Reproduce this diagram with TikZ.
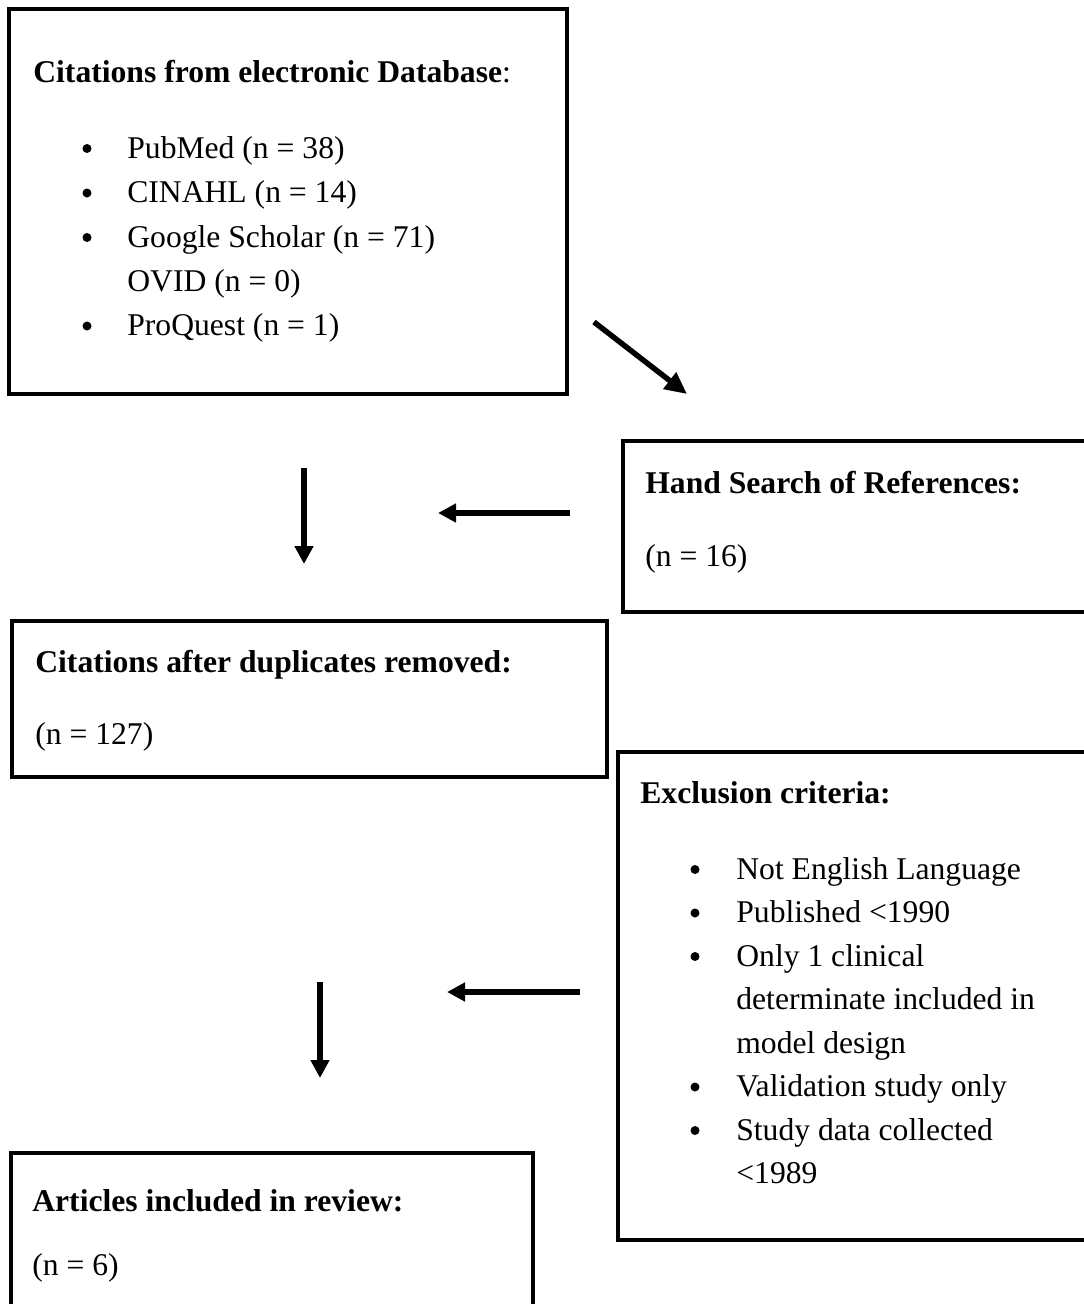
\documentclass[tikz,border=0pt]{standalone}
\usepackage{fontspec}
\setmainfont{Liberation Serif}
\usetikzlibrary{arrows.meta,positioning}

\begin{document}
\begin{tikzpicture}[every node/.style={font=\fontsize{18}{25}\selectfont,inner sep=0pt,anchor=base west},
  frame/.style={line width=2pt},
  arr/.style={line width=3.1pt,-{Triangle[length=0.36cm,width=0.36cm]}}]
\useasboundingbox (0,0) rectangle (21.68,-26.08);
% boxes
\coordinate (db1) at (0.18,-0.18);
\coordinate (db2) at (11.34,-7.88);
\coordinate (hs1) at (12.46,-8.82);
\coordinate (hs2) at (22.20,-12.24);
\coordinate (dup1) at (0.24,-12.42);
\coordinate (dup2) at (12.14,-15.54);
\coordinate (ex1) at (12.36,-15.04);
\coordinate (ex2) at (22.20,-24.80);
\coordinate (inc1) at (0.22,-23.06);
\coordinate (inc2) at (10.66,-26.60);
\draw[frame] (db1) rectangle (db2);
\draw[frame] (hs1) rectangle (hs2);
\draw[frame] (dup1) rectangle (dup2);
\draw[frame] (ex1) rectangle (ex2);
\draw[frame] (inc1) rectangle (inc2);
% database citations
\node (dbtitle) at (0.66,-1.64) {\textbf{Citations from electronic Database}:};
\fill (1.74,-2.97) circle (0.09);\node (db1t) at (2.54,-3.16) {PubMed (n = 38)};
\fill (1.74,-3.86) circle (0.09);\node (db2t) at (2.54,-4.05) {CINAHL (n = 14)};
\fill (1.74,-4.75) circle (0.09);\node (db3t) at (2.54,-4.94) {Google Scholar (n = 71)};
\node (db4t) at (2.54,-5.82) {OVID (n = 0)};
\fill (1.74,-6.52) circle (0.09);\node (db5t) at (2.54,-6.71) {ProQuest (n = 1)};
% hand search
\node (hstitle) at (12.90,-9.86) {\textbf{Hand Search of References:}};
\node (hsn) at (12.90,-11.32) {(n = 16)};
% duplicates removed
\node (duptitle) at (0.70,-13.44) {\textbf{Citations after duplicates removed:}};
\node (dupn) at (0.70,-14.88) {(n = 127)};
% exclusion
\node (extitle) at (12.80,-16.06) {\textbf{Exclusion criteria:}};
\fill (13.90,-17.39) circle (0.09);\node (ex1t) at (14.72,-17.58) {Not English Language};
\fill (13.90,-18.26) circle (0.09);\node (ex2t) at (14.72,-18.45) {Published <1990};
\fill (13.90,-19.13) circle (0.09);\node (ex3t) at (14.72,-19.32) {Only 1 clinical};
\node (ex3u) at (14.72,-20.19) {determinate included in};
\node (ex3v) at (14.72,-21.06) {model design};
\fill (13.90,-21.74) circle (0.09);\node (ex4t) at (14.72,-21.93) {Validation study only};
\fill (13.90,-22.61) circle (0.09);\node (ex5t) at (14.72,-22.80) {Study data collected};
\node (ex5u) at (14.72,-23.67) {<1989};
% included
\node (inctitle) at (0.64,-24.22) {\textbf{Articles included in review:}};
\node (incn) at (0.64,-25.50) {(n = 6)};
% arrows
\coordinate (diag1) at (11.88,-6.44);
\coordinate (diag2) at (13.74,-7.88);
\coordinate (down1a) at (6.08,-9.36);
\coordinate (down1b) at (6.08,-11.28);
\coordinate (left1a) at (11.40,-10.26);
\coordinate (left1b) at (8.76,-10.26);
\coordinate (down2a) at (6.40,-19.64);
\coordinate (down2b) at (6.40,-21.56);
\coordinate (left2a) at (11.60,-19.84);
\coordinate (left2b) at (8.94,-19.84);
\draw[arr,-{Triangle[length=0.44cm,width=0.4cm]}] (diag1)--(diag2);
\draw[arr] (down1a)--(down1b);
\draw[arr] (left1a)--(left1b);
\draw[arr] (down2a)--(down2b);
\draw[arr] (left2a)--(left2b);
\end{tikzpicture}
\end{document}
